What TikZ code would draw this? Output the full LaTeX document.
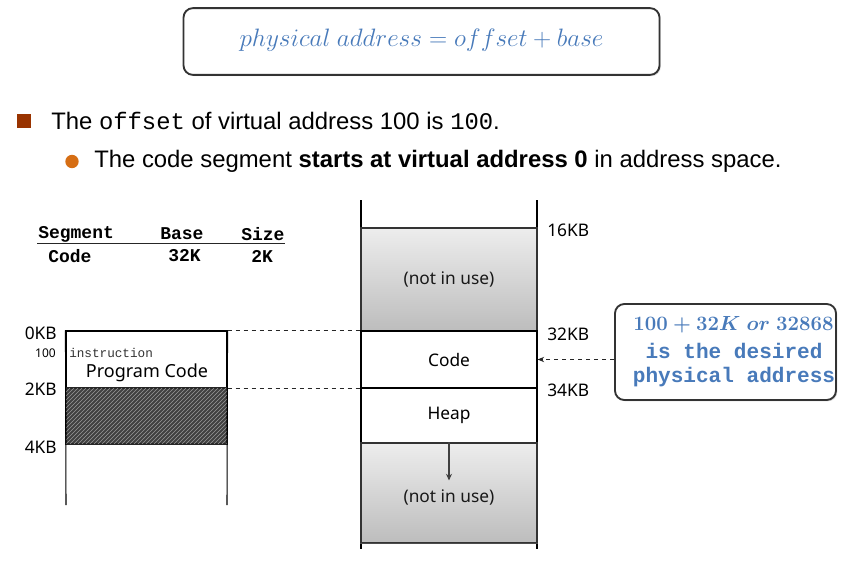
\documentclass[tikz,border=0pt]{standalone}
\usepackage{fontspec}
\setmainfont{Liberation Sans}
\newfontfamily\kfont{Noto Sans}
\newfontfamily\cfont{Liberation Mono}
\usetikzlibrary{patterns,arrows.meta,shadows}
\definecolor{mblue}{RGB}{72,122,186}
\definecolor{sqbrown}{RGB}{153,51,0}
\definecolor{dotorange}{RGB}{214,110,20}
\tikzset{
  callbox/.style={draw=black!80, line width=1.4pt, rounded corners=7pt, fill=white,
    drop shadow={opacity=0.25, shadow xshift=1pt, shadow yshift=-1pt}},
  memw/.style={draw=black, line width=0.8pt, fill=white, minimum width=132pt, inner sep=0pt},
  memg/.style={draw=black!80, line width=0.8pt, top color=black!7, bottom color=black!26,
    minimum width=132pt, inner sep=0pt, font=\kfont\fontsize{13}{15}\selectfont, text=black!90},
  kblab/.style={font=\kfont\fontsize{13}{15}\selectfont, inner sep=0pt},
  hdr/.style={font=\cfont\bfseries\fontsize{13.5}{15}\selectfont, inner sep=0pt},
  conn/.style={dashed, line width=0.7pt, black!85},
  vline/.style={line width=0.8pt, black}
}
\begin{document}
\begin{tikzpicture}[x=0.75pt,y=-0.75pt]
\useasboundingbox (0,0) rectangle (868,578);
% formula box
\node[callbox, minimum width=357pt, minimum height=50pt] (fbox) at (421.5,41.5) {};
\node[text=mblue, font=\fontsize{16}{19}\selectfont, scale=1.093] (ftext) at (421.5,40) {$physical\ address = offset + base$};
% bullets
\node[fill=sqbrown, minimum size=10.5pt, inner sep=0pt] (sq) at (24,120.5) {};
\node[anchor=west, inner sep=0pt, font=\fontsize{17.9}{20}\selectfont] (b1) at (51,121)
  {The {\cfont offset} of virtual address 100 is {\cfont 100}.};
\node[circle, fill=dotorange, minimum size=10pt, inner sep=0pt] (dot) at (72,161.5) {};
\node[anchor=west, inner sep=0pt, font=\fontsize{17.9}{20}\selectfont] (b2) at (94,161)
  {The code segment \textbf{starts at virtual address 0} in address space.};
% table
\node[hdr, anchor=west] (thseg) at (38,234) {Segment};
\node[hdr, anchor=west] (thbase) at (160,234) {Base};
\node[hdr, anchor=west] (thsize) at (241,234) {Size};
\draw[line width=1.2pt, black!85] (37,243.5) -- (285,243.5);
\node[hdr, anchor=west] (tdseg) at (48,256) {Code};
\node[hdr, anchor=west] (tdbase) at (168,256) {32K};
\node[hdr, anchor=west] (tdsize) at (251,256) {2K};
% left memory (virtual)
\node[memw, minimum width=120.75pt, minimum height=42.75pt] (lcode) at (146.5,359.5) {};
\node[draw=black!85, line width=0.8pt, fill=black!75, minimum width=120.75pt,
  minimum height=42pt, inner sep=0pt] (lhatch) at (146.5,416) {};
\fill[pattern=north east lines, pattern color=black!40] (lhatch.south west) rectangle (lhatch.north east);
\draw[black!85, line width=0.8pt] (lhatch.south west) rectangle (lhatch.north east);
\coordinate (lbl) at (66,505);
\coordinate (lbr) at (227,505);
\draw[vline] (lcode.north west) -- (lbl);
\draw[vline] (lcode.north east) -- (lbr);
\node[anchor=west, inner sep=0pt, font=\cfont\fontsize{9.5}{11}\selectfont, text=black!80] (instr) at (69,353) {instruction};
\node[inner sep=0pt, font=\kfont\fontsize{13.5}{15}\selectfont] (pc) at (147,373) {Program Code};
\node[kblab, anchor=east] (l0) at (57,333) {0KB};
\node[kblab, anchor=east, font=\kfont\fontsize{9}{11}\selectfont] (l100) at (56,353) {100};
\node[kblab, anchor=east] (l2) at (57,389) {2KB};
\node[kblab, anchor=east] (l4) at (57,447) {4KB};
% right memory (physical)
\coordinate (rtl) at (361,200);
\coordinate (rtr) at (537,200);
\coordinate (rbl) at (361,549);
\coordinate (rbr) at (537,549);
\draw[vline] (rtl) -- (rbl);
\draw[vline] (rtr) -- (rbr);
\node[memg, minimum height=77.25pt] (nu1) at (449,279.5) {(not in use)};
\node[memw, minimum height=42.75pt, font=\kfont\fontsize{13}{15}\selectfont] (rcode) at (449,359.5) {Code};
\node[memw, minimum height=41.25pt, font=\kfont\fontsize{13}{15}\selectfont] (rheap) at (449,415.5) {Heap};
\node[memg, minimum height=75pt] (nu2) at (449,493) {};
\node[kblab, text=black!90] (nu2t) at (449,497) {(not in use)};
\draw[line width=1.3pt, black!70] (nu2.south west) -- (nu2.south east);
\draw[line width=1pt, black!75, -{Stealth[length=5pt,width=4.5pt]}] (nu2.north) -- ++(0,38);
\node[kblab, anchor=west] (r16) at (547,230) {16KB};
\node[kblab, anchor=west] (r32) at (547,334) {32KB};
\node[kblab, anchor=west] (r34) at (547,390) {34KB};
% dashed mapping lines
\draw[conn] (lcode.north east) -- (rcode.north west);
\draw[conn] (lcode.south east) -- (rcode.south west);
% callout
\node[callbox, minimum width=165.75pt, minimum height=72pt] (call) at (725.5,352) {};
\node[text=mblue, inner sep=0pt, font=\fontsize{15.5}{18}\selectfont\boldmath, scale=1.064] (c1) at (733.5,325)
  {$\mathbf{100+32}K\ or\ \mathbf{32868}$};
\node[text=mblue, inner sep=0pt, font=\cfont\bfseries\fontsize{15.8}{18}\selectfont] (c2) at (734,351) {is the desired};
\node[text=mblue, inner sep=0pt, font=\cfont\bfseries\fontsize{15.8}{18}\selectfont] (c3) at (734,377) {physical address};
\draw[dashed, line width=0.7pt, black!85, -{Stealth[length=5pt,width=4pt]}] (call.west |- rcode.east) -- (rcode.east);
\end{tikzpicture}
\end{document}
